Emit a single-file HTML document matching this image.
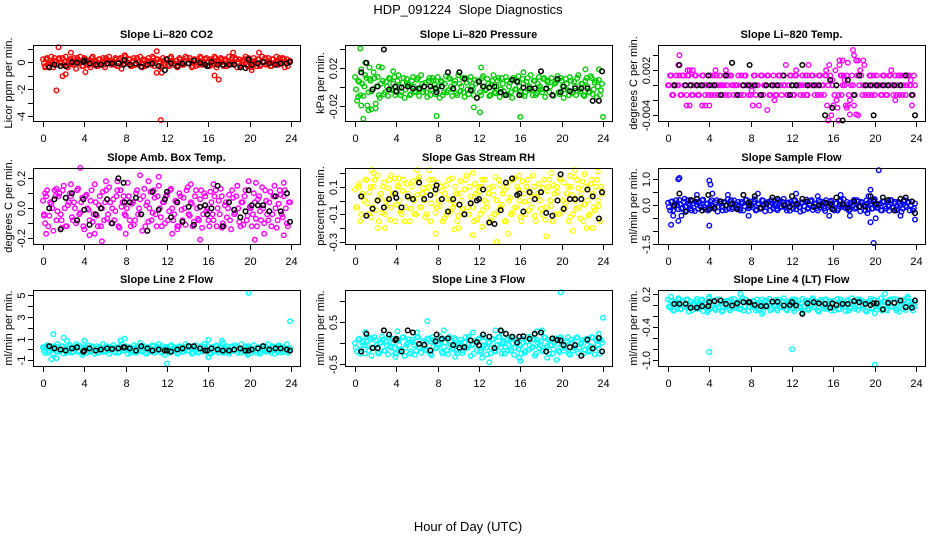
<!DOCTYPE html>
<html><head><meta charset="utf-8">
<style>
html,body{margin:0;padding:0;background:#fff;}
svg{display:block;font-family:"Liberation Sans",sans-serif;}
</style></head>
<body>
<svg id="fig" width="936" height="540" viewBox="0 0 936 540" xmlns="http://www.w3.org/2000/svg">
<rect x="0" y="0" width="936" height="540" fill="#fff"/>
<text x="468" y="14" text-anchor="middle" font-size="13" style="white-space:pre">HDP_091224  Slope Diagnostics</text>
<text x="468" y="531" text-anchor="middle" font-size="13">Hour of Day (UTC)</text>
</svg>
<script>
const sampleStepH = 0.2;
const sampleOffsetB = 0.1;
const xTicks = [0,4,8,12,16,20,24];
const blackHours = [0.6,1.1,1.7,2.2,2.8,3.3,3.9,4.0,4.5,5.1,5.6,6.2,6.7,7.3,7.8,7.9,8.4,9.0,9.5,10.1,10.6,11.2,11.8,12.0,12.4,13.0,13.5,14.1,14.6,15.2,15.7,15.9,16.3,16.9,17.4,18.0,18.5,19.1,19.6,19.9,20.2,20.8,21.3,21.9,22.5,23.0,23.6,23.9];

const co2Vals = [.2,-.3,.3,-.1,.4,-.4,.1,-.2,.3,0,-.2,.4,-.4,.2,-.1,.3,-.5,.1,.4,-.3,.3,-.2,.1,-.4,.4,0,-.3,.2,-.1,.3,-.4,.1,.4,-.2,0,.3,-.3,.2,-.5,.1,.4,-.1,.2,-.3,.3,-.2,0,.4,-.4,.1,-.2,.3,-.1,.4,-.3,.2,0,-.4,.3,-.1,.2,-.3,.4,-.2,.1,-.4,.3,0,-.2,.4,-.1,.3,-.4,.2,-.3,.1,.4,-.2,0,.3,-.3,.2,-.1,.4,-.4,.1,.3,-.2,.2,-.3,.4,-.1,0,.3,-.4,.2,-.2,.1,.4,-.3,.1,-.4,.3,-.1,.2,-.3,.4,0,-.2,.3,-.3,.2,-.1,.4,-.2,.1,.3,-.4,.2,0];
const co2ValsB = [-.1,.2,-.3,.1,0,.3,-.2,.2,-.1,.3,0,-.3,.1,.2,-.2,0,.3,-.1,.1,-.3,.2,0,-.2,.3,-.1,.1,-.3,.2,0,-.2,.3,-.1,.1,0,-.2,.2,-.3,.3,.1,-.1,0,.2,-.3,.1,-.2,.3,0,-.1,.2,-.3,.1,0,-.2,.3,-.1,.2,0,-.3,.1,.2,-.2,.3,0,-.1,.1,-.3,.2,-.2,0,.3,-.1,.1,-.3,.2,0,-.2,.3,-.1,.2,0,-.3,.1,-.2,.3,0,-.1,.2,-.3,.1,0,-.2,.3,-.1,.2,0,-.3,.1,.2,-.2,.3,0,-.1,.1,-.3,.2,-.2,0,.3,-.1,.1,-.3,.2,0,-.2,.3,-.1,.2,0,-.3,.1];
const co2Extra = [[1.3,-2.1],[1.5,1.1],[1.9,-1.05],[2.2,-0.9],[2.7,0.7],[4.1,-0.75],[11.0,0.8],[11.0,-0.8],[11.5,-0.8],[11.4,-4.3],[16.6,-1.0],[17.0,-1.3],[18.4,0.7],[20.9,0.7],[20.2,-0.6],[0.2,-0.4],[7.9,0.5]];
const co2Hourly = [-.4,-.2,-.3,-.3,0,-.05,0,.1,-.1,-.2,-.2,-.1,-.1,-.1,-.2,.15,-.2,-.1,-.35,-.2,-.1,-.3,-.6,.2,-.1,-.3,-.1,-.1,.1,-.05,-.2,-.3,0,-.2,-.2,-.2,-.2,-.4,-.45,.2,-.2,-.1,0,-.1,-.2,-.1,-.1,0];

const presVals = [.01,-.015,.005,.018,-.01,.012,-.02,.008,-.005,.015,-.018,.01,-.012,.02,-.008,.005,-.01,.008,-.004,.01,-.006,.012,-.009,.004,-.012,.008,.002,-.008,.01,-.005,.007,-.01,.012,-.006,.004,-.011,.009,-.003,.006,-.008,.01,-.012,.005,-.006,.011,-.004,.008,-.01,.003,-.007,.012,-.005,.009,-.011,.004,-.008,.01,-.003,.007,-.012,.005,-.009,.011,-.004,.008,-.01,.002,.012,-.007,.006,-.011,.009,-.005,.01,-.008,.004,-.012,.007,-.003,.011,-.006,.008,-.01,.005,-.004,.012,-.009,.006,-.007,.01,-.003,.008,-.011,.005,-.006,.009,-.01,.004,.011,-.008,.006,-.012,.008,-.004,.01,-.007,.005,-.009,.012,-.005,.003,-.01,.009,-.006,.011,-.008,.004,-.011,.007,-.004];
const presValsB = [-.003,.006,-.009,.003,0,.009,-.006,.006,-.003,.009,0,-.009,.003,.006,-.006,0,.009,-.003,.003,-.009,.006,0,-.006,.009,-.003,.003,-.009,.006,0,-.006,.009,-.003,.003,0,-.006,.006,-.009,.009,.003,-.003,0,.006,-.009,.003,-.006,.009,0,-.003,.006,-.009,.003,0,-.006,.009,-.003,.006,0,-.009,.003,.006,-.006,.009,0,-.003,.003,-.009,.006,-.006,0,.009,-.003,.003,-.009,.006,0,-.006,.009,-.003,.006,0,-.009,.003,-.006,.009,0,-.003,.006,-.009,.003,0,-.006,.009,-.003,.006,0,-.009,.003,.006,-.006,.009,0,-.003,.003,-.009,.006,-.006,0,.009,-.003,.003,-.009,.006,0,-.006,.009,-.003,.006,0,-.009,.003];
const presExtra = [[0.5,.04],[0.8,-.034],[0.6,-.02],[1.3,-.025],[1.6,-.024],[2.0,-.023],[1.0,.025],[1.4,.02],[2.3,.021],[7.9,-.031],[16.0,-.032],[24.0,-.032],[12.1,-.027],[11.5,-.022],[12.2,.02],[16.3,.015],[22.3,.018],[23.6,.018],[0.3,-.011],[3.7,.016]];
const presHourly = [.015,.025,-.003,0,.039,-.003,0,-.005,-.001,0,-.002,-.002,0,0,-.002,-.006,0,.015,-.002,.015,.008,-.004,-.012,.005,0,-.001,0,-.006,-.009,.007,.005,-.009,-.001,-.002,-.002,.016,-.002,-.009,.008,-.006,0,-.005,-.002,-.002,-.002,-.015,-.015,.016];

const tempVals = [0,.0013,-.0013,0,.0013,0,-.0013,.0013,0,-.0013,.0013,0,-.0013,.0013,0,-.0013,0,.0013,-.0013,0,0,-.0013,.0013,0,-.0013,.0013,0,0,-.0013,.0013,.0013,0,-.0013,0,.0013,-.0013,0,.0013,0,-.0013,-.0013,-.0027,.0013,0,-.0027,.0013,-.0013,0,.0013,-.0013,0,.0013,-.0013,0,.0013,-.0013,0,.0027,-.0013,.0013,0,-.0013,.0013,0,-.0013,.0013,0,-.0013,.0027,0,.0013,-.0013,0,.0013,-.0013,0,.0013,-.0027,.0027,-.004,-.0027,.002,-.003,.0027,-.0013,.0013,-.0027,.003,-.002,.0013,-.0027,.0033,-.004,.002,-.0013,.0027,0,-.0013,.0013,0,-.0013,.0013,0,-.0013,.0013,0,-.0013,.0013,0,-.0013,.0013,0,-.0013,.0013,0,-.0013,.0013,0,-.0027,.0013];
const tempValsB = [0,.0013,-.0013,0,0,.0013,-.0013,.0013,0,.0013,0,-.0013,0,.0013,-.0013,0,.0013,0,0,-.0013,.0013,0,-.0013,.0013,0,0,-.0013,.0013,0,-.0013,.0013,0,0,0,-.0013,.0013,-.0013,.0013,0,0,0,.0013,-.0013,0,-.0013,.0013,0,0,.0013,-.0013,0,0,-.0013,.0013,0,.0013,0,-.0013,0,.0013,-.0013,.0013,0,0,0,-.0013,.0013,-.0013,0,.0013,0,0,-.0013,.0013,0,-.0013,.0013,0,.0013,0,-.0013,0,-.0013,.0013,0,0,.0013,-.0013,0,0,-.0013,.0013,0,.0013,0,-.0013,0,.0013,-.0013,.0013,0,0,0,-.0013,.0013,-.0013,0,.0013,0,0,-.0013,.0013,0,-.0013,.0013,0,.0013,0,-.0013,0];
const tempExtra = [[1,.0027],[1.9,.002],[2.1,.002],[2.4,.002],[3.3,-.0027],[3.6,-.0027],[4.0,-.0027],[4.6,.002],[5.6,.002],[1.8,-.0027],[2.1,-.0027],[1.1,.004],[15.5,-.0047],[16.5,-.0047],[16.6,.0033],[16.9,.0033],[17.9,.0047],[18.0,.004],[18.4,.0033],[18.9,.0033],[17.6,-.0039],[18.2,-.0039],[17.3,-.003],[16.8,.0013],[17.1,.0007],[16.3,-.002],[17.4,-.0027],[15.9,.0007],[13.5,.0013],[12.4,.002],[8.1,-.0007],[9.6,-.0033],[10.3,-.002],[22,-.002],[22.4,.0013],[7.9,0],[21.6,.002],[23.5,.0007],[15.3,.002]];
const tempHourly = [0,.0027,0,0,0,0,.0013,0,0,-.0013,.0013,.003,-.0013,0,0,.0027,0,-.0013,0,0,0,.0013,-.0013,0,0,.0027,0,0,0,-.004,.0007,-.003,0,-.0047,.0007,-.0013,.0013,0,0,-.004,0,0,0,0,0,.0013,-.0013,-.004];

const ambVals = [.05,-.1,.12,-.05,.03,-.15,.08,-.02,.1,-.08,.15,-.12,.02,.1,-.06,.04,-.1,.13,-.03,.07,-.14,.09,-.01,.05,-.09,.16,-.05,.02,-.12,.11,.04,-.07,.14,-.1,.06,-.02,.12,-.13,.01,.08,-.05,.17,-.08,.03,-.11,.1,-.04,.06,-.15,.13,.02,-.09,.11,-.03,.07,-.12,.15,-.06,.04,-.1,.09,-.02,.13,-.08,.05,-.14,.1,-.01,.07,-.11,.14,-.05,.03,-.09,.12,-.07,.06,-.13,.1,-.02,-.08,.11,-.04,.08,-.12,.05,.13,-.1,.02,-.06,.09,-.14,.07,-.03,.15,-.09,.04,-.11,.12,-.05,.01,-.12,.1,-.07,.06,-.02,.14,-.1,.05,-.08,.11,-.04,.08,-.13,.03,.09,-.06,.12,-.1,.04];
const ambValsB = [-.04,.08,-.12,.04,0,.12,-.08,.08,-.04,.12,0,-.12,.04,.08,-.08,0,.12,-.04,.04,-.12,.08,0,-.08,.12,-.04,.04,-.12,.08,0,-.08,.12,-.04,.04,0,-.08,.08,-.12,.12,.04,-.04,0,.08,-.12,.04,-.08,.12,0,-.04,.08,-.12,.04,0,-.08,.12,-.04,.08,0,-.12,.04,.08,-.08,.12,0,-.04,.04,-.12,.08,-.08,0,.12,-.04,.04,-.12,.08,0,-.08,.12,-.04,.08,0,-.12,.04,-.08,.12,0,-.04,.08,-.12,.04,0,-.08,.12,-.04,.08,0,-.12,.04,.08,-.08,.12,0,-.04,.04,-.12,.08,-.08,0,.12,-.04,.04,-.12,.08,0,-.08,.12,-.04,.08,0,-.12,.04];
const ambExtra = [[3.6,.27],[5.7,-.22],[9.4,.22],[11.2,.21],[6.1,.18],[7.2,.18],[8,-.17],[4.5,-.18],[5.0,-.17],[12.5,-.17],[15.2,-.21],[20.5,-.21],[21.4,-.17],[23.3,-.18],[19.9,.18],[20.6,.17],[23.3,.17],[0.3,-.17],[1.3,.13],[2.7,.16],[16.5,.16],[0.1,-.05],[0.2,.1],[1.8,-.13],[10.2,.18],[14.3,.16],[18.8,.15],[22.4,.15],[17.3,-.13],[13,-.12]];
const ambHourly = [0,.06,-.14,.07,.1,-.08,.06,-.01,-.11,-.04,0,.06,-.1,.2,.17,.04,.04,.07,-.04,-.15,.11,-.01,.06,.11,-.06,.04,-.09,.01,-.11,.01,.02,-.04,0,.15,-.12,.04,-.01,-.06,-.02,.12,.02,.02,.02,-.02,.08,-.02,.1,-.09];

const rhVals = [.08,-.05,.12,-.1,.03,.15,-.02,.06,-.12,.1,-.07,.18,.01,-.09,.13,-.04,.09,-.14,.05,.16,-.03,.11,-.08,.07,-.15,.12,.02,-.06,.14,-.1,.04,.17,-.05,.09,-.12,.06,.15,-.02,.1,-.09,.13,-.04,.07,-.13,.11,.01,-.08,.16,-.03,.05,-.11,.14,-.06,.08,.18,-.1,.03,-.05,.12,-.14,.06,.1,-.07,.15,-.02,.09,-.12,.04,.17,-.08,.11,-.03,.07,-.15,.13,.02,-.09,.16,-.05,.08,-.12,.14,-.01,.1,-.07,.05,.18,-.11,.03,.12,-.06,.09,-.14,.07,.15,-.04,.11,-.1,.06,.16,-.08,.13,-.02,.1,-.12,.04,.17,-.06,.09,-.13,.14,-.03,.08,-.11,.12,.05,-.07,.15,-.04,.1];
const rhValsB = [-.05,.1,-.15,.05,0,.15,-.1,.1,-.05,.15,0,-.15,.05,.1,-.1,0,.15,-.05,.05,-.15,.1,0,-.1,.15,-.05,.05,-.15,.1,0,-.1,.15,-.05,.05,0,-.1,.1,-.15,.15,.05,-.05,0,.1,-.15,.05,-.1,.15,0,-.05,.1,-.15,.05,0,-.1,.15,-.05,.1,0,-.15,.05,.1,-.1,.15,0,-.05,.05,-.15,.1,-.1,0,.15,-.05,.05,-.15,.1,0,-.1,.15,-.05,.1,0,-.15,.05,-.1,.15,0,-.05,.1,-.15,.05,0,-.1,.15,-.05,.1,0,-.15,.05,.1,-.1,.15,0,-.05,.05,-.15,.1,-.1,0,.15,-.05,.05,-.15,.1,0,-.1,.15,-.05,.1,0,-.15,.05];
const rhExtra = [[1.6,.22],[1.8,.2],[6.0,.22],[7.2,.22],[11.4,.2],[2.2,-.2],[2.9,-.2],[7.8,-.24],[9.6,-.21],[10,-.2],[11.4,-.25],[12.3,-.19],[13.7,-.3],[14.8,-.24],[18.5,-.26],[21.1,-.22],[22.4,-.2],[23,-.2],[23.5,.21],[21.3,.22],[0.4,.1],[3.5,.18],[4.2,.16],[15.9,.18],[19,.2],[20.8,.18],[22.2,.19]];
const rhHourly = [.03,-.11,-.06,0,-.05,.01,.05,.02,-.05,.03,.01,.13,.01,.04,.08,.11,.01,-.08,.01,-.03,-.1,-.02,0,.01,.08,-.16,-.17,-.07,.13,.16,.04,.05,-.08,.06,.01,.06,-.09,-.11,0,.19,-.06,.01,.01,.01,.08,.03,-.13,.06];

const sflowVals = [.1,-.2,.15,-.05,.2,-.15,.05,-.1,.25,-.2,.08,-.12,.18,-.22,.02,.14,-.08,.22,-.16,.06,-.1,.2,-.04,.12,-.24,.16,-.06,.1,-.18,.24,.03,-.14,.19,-.09,.13,-.2,.07,-.03,.21,-.12,.15,-.07,.23,-.17,.04,-.11,.18,-.23,.09,-.02,.2,-.13,.06,-.19,.14,-.05,.25,-.1,.11,-.21,.02,.17,-.15,.08,-.24,.12,-.04,.22,-.09,.16,-.18,.05,-.12,.2,-.07,.13,-.22,.1,-.01,.18,-.14,.07,-.2,.15,-.06,.23,-.11,.04,-.17,.12,.21,-.08,.14,-.23,.09,-.03,.19,-.16,.06,-.12,.24,-.1,.03,-.19,.16,-.05,.11,-.21,.2,-.09,.13,-.15,.07,-.24,.18,-.02,.1,-.2,.14,-.11];
const sflowValsB = [-.07,.13,-.2,.07,0,.2,-.13,.13,-.07,.2,0,-.2,.07,.13,-.13,0,.2,-.07,.07,-.2,.13,0,-.13,.2,-.07,.07,-.2,.13,0,-.13,.2,-.07,.07,0,-.13,.13,-.2,.2,.07,-.07,0,.13,-.2,.07,-.13,.2,0,-.07,.13,-.2,.07,0,-.13,.2,-.07,.13,0,-.2,.07,.13,-.13,.2,0,-.07,.07,-.2,.13,-.13,0,.2,-.07,.07,-.2,.13,0,-.13,.2,-.07,.13,0,-.2,.07,-.13,.2,0,-.07,.13,-.2,.07,0,-.13,.2,-.07,.13,0,-.2,.07,.13,-.13,.2,0,-.07,.07,-.2,.13,-.13,0,.2,-.07,.07,-.2,.13,0,-.13,.2,-.07,.13,0,-.2,.07];
const sflowExtra = [[1.0,1.0],[1.1,1.05],[0.3,-.75],[1.0,-.6],[4.0,.95],[4.1,.8],[4.0,-.78],[20.4,1.35],[19.9,-1.45],[19.6,-.65],[19.6,.6],[20.1,-.5],[23.9,-.55],[0.5,-.4],[1.3,-.4],[4.3,.45],[8.7,.45],[12.4,.45],[16.7,.4],[19.4,.35],[2.8,.4],[5.8,.4],[7.8,-.4],[14.5,.35],[15.6,-.4],[17.6,-.4],[19.3,-.3],[22.5,-.4]];
const sflowHourly = [0,.45,-.25,.2,.25,-.2,.4,-.15,-.1,.15,0,.05,-.15,.4,.1,0,.35,-.1,.05,.3,.25,0,-.05,.35,.05,.25,.15,-.05,0,.1,.05,-.15,.3,.05,-.1,.15,-.05,-.05,.35,.15,.05,.3,.2,-.2,.25,.3,.15,-.3];

const l2Vals = [.2,-.3,.4,-.1,.3,-.4,.1,.5,-.2,.3,-.4,.2,-.1,.4,-.3,.1,.5,-.2,.3,-.5,.1,-.3,.4,-.1,.2,-.4,.3,0,-.2,.5,-.1,.3,-.4,.2,.4,-.3,.1,-.2,.5,-.1,.3,-.4,.2,-.1,.4,-.3,.1,.6,-.2,.3,-.4,.2,-.1,.4,-.3,.1,.5,-.2,.3,-.5,.1,-.3,.4,-.1,.2,-.4,.3,0,-.2,.5,-.1,.3,-.4,.2,.4,-.3,.1,-.2,.5,-.1,.3,-.4,.2,-.1,.4,-.3,.1,.6,-.2,.3,-.4,.2,-.1,.4,-.3,.1,.5,-.2,.3,-.5,.1,-.3,.4,-.1,.2,-.4,.3,0,-.2,.5,-.1,.3,-.4,.2,.4,-.3,.1,-.2,.5,-.1];
const l2ValsB = [-.1,.2,-.3,.1,0,.3,-.2,.2,-.1,.3,0,-.3,.1,.2,-.2,0,.3,-.1,.1,-.3,.2,0,-.2,.3,-.1,.1,-.3,.2,0,-.2,.3,-.1,.1,0,-.2,.2,-.3,.3,.1,-.1,0,.2,-.3,.1,-.2,.3,0,-.1,.2,-.3,.1,0,-.2,.3,-.1,.2,0,-.3,.1,.2,-.2,.3,0,-.1,.1,-.3,.2,-.2,0,.3,-.1,.1,-.3,.2,0,-.2,.3,-.1,.2,0,-.3,.1,-.2,.3,0,-.1,.2,-.3,.1,0,-.2,.3,-.1,.2,0,-.3,.1,.2,-.2,.3,0,-.1,.1,-.3,.2,-.2,0,.3,-.1,.1,-.3,.2,0,-.2,.3,-.1,.2,0,-.3,.1];
const l2Extra = [[1.0,1.4],[0.8,-.9],[1.3,-.8],[2.0,1.1],[2.3,.8],[12.0,-1.3],[16.0,-.7],[16.0,.9],[19.9,5.2],[23.9,2.6],[7.9,1.0],[7.5,.8],[4,.8],[17.3,.8],[19.8,-.4],[0.1,.2]];
const l2Hourly = [.3,.1,0,-.1,.1,.2,-.2,-.1,.1,-.1,0,.1,.05,.1,.2,.2,.1,-.1,.3,.1,-.1,0,-.1,-.1,-.2,0,.1,.3,.3,.1,-.1,-.1,.1,0,-.1,-.1,0,.1,-.1,-.1,0,.1,.3,0,.1,.1,0,-.1];

const l3Vals = [0,-.2,.1,-.15,.05,-.25,-.05,.12,-.3,-.1,.08,-.22,-.02,.15,-.18,.03,-.27,-.08,.1,-.12,-.25,.06,-.15,.13,-.3,-.04,.09,-.2,.02,-.28,.14,-.1,-.23,.04,-.16,.11,-.06,-.29,.07,-.13,-.01,.16,-.21,-.09,.1,-.26,.03,-.14,.12,-.19,-.05,.08,-.24,.01,-.11,.15,-.3,-.03,.06,-.17,.11,-.22,-.07,.13,-.27,.02,-.12,.09,-.2,-.04,.14,-.25,.05,-.1,-.18,.12,-.01,-.28,.07,-.14,-.06,.1,-.23,.03,-.16,.15,-.09,-.3,.08,-.12,.04,-.2,.13,-.07,-.26,.06,-.15,.11,-.02,-.22,.09,-.18,-.05,.14,-.28,.01,-.11,.12,-.24,-.03,.07,-.16,.1,-.21,-.08,.13,-.27,.04,-.13,.08];
const l3ValsB = [-.11,.08,-.25,.01,-.05,.14,-.18,.08,-.11,.14,-.05,-.25,.01,.08,-.18,-.05,.14,-.11,.01,-.25,.08,-.05,-.18,.14,-.11,.01,-.25,.08,-.05,-.18,.14,-.11,.01,-.05,-.18,.08,-.25,.14,.01,-.11,-.05,.08,-.25,.01,-.18,.14,-.05,-.11,.08,-.25,.01,-.05,-.18,.14,-.11,.08,-.05,-.25,.01,.08,-.18,.14,-.05,-.11,.01,-.25,.08,-.18,-.05,.14,-.11,.01,-.25,.08,-.05,-.18,.14,-.11,.08,-.05,-.25,.01,-.18,.14,-.05,-.11,.08,-.25,.01,-.05,-.18,.14,-.11,.08,-.05,-.25,.01,.08,-.18,.14,-.05,-.11,.01,-.25,.08,-.18,-.05,.14,-.11,.01,-.25,.08,-.05,-.18,.14,-.11,.08,-.05,-.25,.01];
const l3Extra = [[7.0,.52],[19.9,1.2],[24.0,.6],[12.3,-.35],[13.0,-.46],[16.0,-.42],[19.5,-.4],[18.6,-.35],[3.9,-.33],[9.7,-.33],[2.8,.3],[4.1,.28],[11.4,.25],[13.6,.3],[14.2,.28],[17.6,.28],[18.1,.3],[8.6,.3],[23.6,.22],[1,.26],[6,.25],[15.9,-.35]];
const l3Hourly = [-.2,.22,-.12,-.12,.3,.2,.07,.1,-.2,.3,.25,-.02,-.04,-.18,.04,.2,.1,.11,-.05,-.11,-.1,.06,.02,-.05,.2,.15,-.12,.3,.22,.15,.01,.15,.16,.1,.22,.25,-.2,.11,.07,.06,-.05,-.1,-.05,-.3,.08,-.13,.12,-.2];

const l4Vals = [.1,-.05,.08,-.1,.03,.12,-.08,.05,-.03,.1,-.12,.06,.02,-.07,.11,-.02,.09,-.11,.04,-.06,.12,-.04,.07,-.09,.01,.1,-.12,.05,-.02,.08,-.1,.03,.11,-.06,.06,-.08,.12,-.03,.09,-.11,.02,.07,-.05,.1,-.09,.04,-.12,.08,-.01,.11,-.07,.05,.09,-.1,.03,-.04,.12,-.08,.06,-.02,.1,-.11,.04,.07,-.06,.11,-.03,.08,-.09,.02,.12,-.05,.06,-.12,.09,-.02,.1,-.07,.03,-.1,.08,-.04,.11,-.08,.05,.01,-.11,.09,-.06,.12,-.03,.07,-.09,.1,-.01,.06,-.12,.04,.11,-.05,.09,-.08,.02,.12,-.07,.05,-.1,.08,-.03,.11,-.06,.1,-.12,.04,.07,-.09,.12,-.02,.06,-.04];
const l4ValsB = [-.03,.07,-.1,.03,0,.1,-.07,.07,-.03,.1,0,-.1,.03,.07,-.07,0,.1,-.03,.03,-.1,.07,0,-.07,.1,-.03,.03,-.1,.07,0,-.07,.1,-.03,.03,0,-.07,.07,-.1,.1,.03,-.03,0,.07,-.1,.03,-.07,.1,0,-.03,.07,-.1,.03,0,-.07,.1,-.03,.07,0,-.1,.03,.07,-.07,.1,0,-.03,.03,-.1,.07,-.07,0,.1,-.03,.03,-.1,.07,0,-.07,.1,-.03,.07,0,-.1,.03,-.07,.1,0,-.03,.07,-.1,.03,0,-.07,.1,-.03,.07,0,-.1,.03,.07,-.07,.1,0,-.03,.03,-.1,.07,-.07,0,.1,-.03,.03,-.1,.07,0,-.07,.1,-.03,.07,0,-.1,.03];
const l4Extra = [[4.0,-.85],[12.0,-.8],[20.0,-1.08],[7.0,.2],[21.0,.2],[0.3,.15],[4,.15],[9.1,-.16],[20,-.15],[3.8,-.13],[13,-.14],[23.2,.15]];
const l4Hourly = [.02,.02,.02,-.05,-.05,-.02,-.02,.05,.07,.08,.02,-.01,.03,.05,.05,.05,0,-.02,-.02,.06,.06,-.01,0,.05,-.01,-.16,.03,.05,.03,.02,-.05,.03,0,.02,.02,.07,.05,.02,0,.03,.03,-.08,.04,.04,.08,-.04,-.05,.08];

const panelTitles = ["Slope Li\u2013820 CO2","Slope Li\u2013820 Pressure","Slope Li\u2013820 Temp.","Slope Amb. Box Temp.","Slope Gas Stream RH","Slope Sample Flow","Slope Line 2 Flow","Slope Line 3 Flow","Slope Line 4 (LT) Flow"];
const yTitles = ["Licor ppm per min.","kPa per min.","degrees C per min.","degrees C per min.","percent per min.","ml/min per min.","ml/min per min.","ml/min per min.","ml/min per min."];
const yTickVals = [[1,0,-1,-2,-3,-4],[.04,.02,0,-.02],[.004,.002,0,-.002,-.004],[.2,.1,0,-.1,-.2],[.2,.1,0,-.1,-.2,-.3],[1,.5,0,-.5,-1,-1.5],[5,4,3,2,1,0,-1],[1,.5,0,-.5],[.2,0,-.2,-.4,-.6,-.8,-1]];
const yTickLabels = [["","0","","-2","","-4"],["","0.02","","-0.02"],["","0.002","","","-0.004"],["0.2","","0.0","","-0.2"],["","0.1","","-0.1","","-0.3"],["1.0","","0.0","","","-1.5"],["5","","3","","1","","-1"],["","0.5","","-0.5"],["0.2","","","-0.4","","","-1.0"]];
const yDomains = [[-4.37,1.26],[-.0363,.0437],[-.00476,.00537],[-.238,.269],[-.315,.2355],[-1.488,1.435],[-1.52,5.48],[-.545,1.258],[-1.104,.271]];
const seriesVals = [co2Vals,presVals,tempVals,ambVals,rhVals,sflowVals,l2Vals,l3Vals,l4Vals];
const seriesValsB = [co2ValsB,presValsB,tempValsB,ambValsB,rhValsB,sflowValsB,l2ValsB,l3ValsB,l4ValsB];
const seriesExtra = [co2Extra,presExtra,tempExtra,ambExtra,rhExtra,sflowExtra,l2Extra,l3Extra,l4Extra];
const seriesHourly = [co2Hourly,presHourly,tempHourly,ambHourly,rhHourly,sflowHourly,l2Hourly,l3Hourly,l4Hourly];
const seriesColors = ["#ff0000","#00cd00","#ff00ff","#ff00ff","#ffff00","#0000ff","#00ffff","#00ffff","#00ffff"];
const panelNames = ["co2","pressure","licor-temp","amb-box-temp","gas-stream-rh","sample-flow","line2-flow","line3-flow","line4-flow"];

const NS = "http://www.w3.org/2000/svg";
const svg = document.getElementById("fig");
const colX = [33,345,658], rowY = [45,168,290], BW = 267, BH = 76;
const xDomain = [-0.968,24.87];

function mk(tag, attrs, parent){
  const e = document.createElementNS(NS, tag);
  for (const k in attrs) e.setAttribute(k, attrs[k]);
  parent.appendChild(e);
  return e;
}

for (let p = 0; p < 9; p++) {
  const bx = colX[p % 3], by = rowY[Math.floor(p / 3)];
  const dom = yDomains[p];
  const sx = h => bx + (h - xDomain[0]) / (xDomain[1] - xDomain[0]) * BW;
  const sy = v => by + BH - (v - dom[0]) / (dom[1] - dom[0]) * BH;
  const g = mk("g", {}, svg);
  
  

  const t = mk("text", {x: bx + BW/2, y: by - 7, "text-anchor": "middle", "font-size": "11", "font-weight": "bold"}, g);
  t.textContent = panelTitles[p];
  
  

  const yt = mk("text", {"text-anchor": "middle", "font-size": "11", transform: "translate(" + (bx - 21) + "," + (by + BH/2) + ") rotate(-90)"}, g);
  yt.textContent = yTitles[p];
  
  

  const pts = mk("g", {fill: "none", stroke: seriesColors[p], "stroke-width": "1.4"}, g);
  
  
  seriesVals[p].forEach((v, i) => {
    const c = mk("circle", {cx: sx(i * sampleStepH).toFixed(1), cy: sy(v).toFixed(1), r: "2.3"}, pts);
    
    
  });
  seriesValsB[p].forEach((v, i) => {
    const c = mk("circle", {cx: sx(i * sampleStepH + sampleOffsetB).toFixed(1), cy: sy(v).toFixed(1), r: "2.3"}, pts);
    
    
  });
  seriesExtra[p].forEach(d => {
    const c = mk("circle", {cx: sx(d[0]).toFixed(1), cy: sy(d[1]).toFixed(1), r: "2.3"}, pts);
    
    
  });
  const hp = mk("g", {fill: "none", stroke: "#000", "stroke-width": "1.5"}, g);
  
  
  seriesHourly[p].forEach((v, i) => {
    const c = mk("circle", {cx: sx(blackHours[i]).toFixed(1), cy: sy(v).toFixed(1), r: "2.3"}, hp);
    
    
  });

  const box = mk("rect", {x: bx + .5, y: by + .5, width: BW, height: BH, fill: "none", stroke: "#000", "stroke-width": "1"}, g);
  
  

  const xa = mk("g", {}, g);
  
  
  xTicks.forEach(h => {
    const x = Math.round(sx(h)) + .5;
    mk("line", {x1: x, x2: x, y1: by + BH + 1, y2: by + BH + 6, stroke: "#000"}, xa);
    const lb = mk("text", {x: x, y: by + BH + 21, "text-anchor": "middle", "font-size": "11"}, xa);
    lb.textContent = h;
    
    
  });

  const ya = mk("g", {}, g);
  
  
  yTickVals[p].forEach((v, i) => {
    const y = Math.round(sy(v)) + .5;
    mk("line", {x1: bx - 5, x2: bx, y1: y, y2: y, stroke: "#000"}, ya);
    if (yTickLabels[p][i]) {
      const lb = mk("text", {"text-anchor": "middle", "font-size": "11", transform: "translate(" + (bx - 8) + "," + y + ") rotate(-90)"}, ya);
      lb.textContent = yTickLabels[p][i];
      
      
    }
  });
}
</script>
</body></html>
